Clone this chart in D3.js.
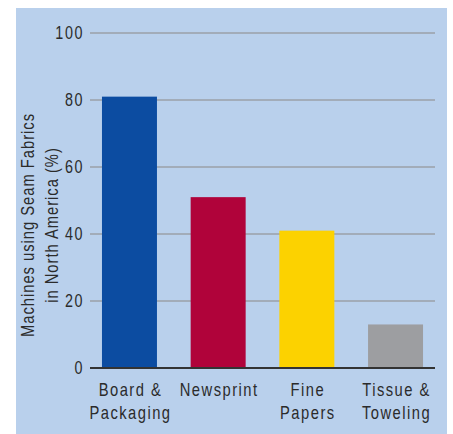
<!DOCTYPE html>
<html><head><meta charset="utf-8">
<script src="https://cdn.jsdelivr.net/npm/d3@7"></script>
<style>html,body{margin:0;padding:0;background:#fff;}svg{display:block;}</style>
</head><body>
<script>
const categories = [["Board &","Packaging"],["Newsprint"],["Fine","Papers"],["Tissue &","Toweling"]];
const values = [81, 51, 41, 13];
const colors = ["#0c4ca1", "#b0033a", "#fcd200", "#9d9ea1"];
const yTicks = [0, 20, 40, 60, 80, 100];
const yTitle = ["Machines using Seam Fabrics", "in North America (%)"];

const W = 453, H = 434;
const font = "'Liberation Sans', Arial, sans-serif";
const SX = 0.82;
const svg = d3.select("body").append("svg").attr("width", W).attr("height", H);

svg.append("rect").attr("x", 16).attr("y", 8).attr("width", 431).attr("height", 426).attr("fill", "#b9d0ec");

const x = d3.scaleBand().domain(d3.range(categories.length)).range([90, 435]).paddingInner(0.38).paddingOuter(0.135);
const y = d3.scaleLinear().domain([0, 100]).range([368, 33]);

const g = svg.append("g");
// gridlines
g.selectAll("line.grid").data(yTicks.filter(d => d > 0)).join("line")
  .attr("x1", 90).attr("x2", 435)
  .attr("y1", d => y(d)).attr("y2", d => y(d))
  .attr("stroke", "#9ba1a8").attr("stroke-width", 1.6);

// bars
g.selectAll("rect.bar").data(values).join("rect")
  .attr("x", (d, i) => x(i)).attr("width", x.bandwidth())
  .attr("y", d => y(d)).attr("height", d => y(0) - y(d))
  .attr("fill", (d, i) => colors[i]);

// zero line
g.append("line").attr("x1", 90).attr("x2", 435).attr("y1", y(0)).attr("y2", y(0))
  .attr("stroke", "#333").attr("stroke-width", 2);

// y tick labels
g.selectAll("text.yt").data(yTicks).join("text")
  .attr("transform", d => `translate(84,${y(d) + 6.3}) scale(${SX},1)`)
  .attr("text-anchor", "end")
  .attr("font-family", font).attr("font-size", 17.5).attr("letter-spacing", 1.9)
  .attr("fill", "#2b2b2b").text(d => d);

// category labels
categories.forEach((lines, i) => {
  const cx = x(i) + x.bandwidth() / 2 + 1;
  const t = g.append("text").attr("text-anchor", "middle")
    .attr("transform", `translate(${cx},396) scale(${SX},1)`)
    .attr("font-family", font).attr("font-size", 18).attr("letter-spacing", 1.8)
    .attr("fill", "#2b2b2b");
  lines.forEach((ln, j) => {
    t.append("tspan").attr("x", 0).attr("y", j * 23).text(ln);
  });
});

// y title
const tt = g.append("text").attr("transform", `translate(0,225) rotate(-90) scale(${SX},1)`)
  .attr("text-anchor", "middle")
  .attr("font-family", font).attr("font-size", 18).attr("letter-spacing", 1.2)
  .attr("fill", "#2b2b2b");
yTitle.forEach((ln, j) => tt.append("tspan").attr("x", 0).attr("y", 34 + j * 24).text(ln));
</script>
</body></html>
